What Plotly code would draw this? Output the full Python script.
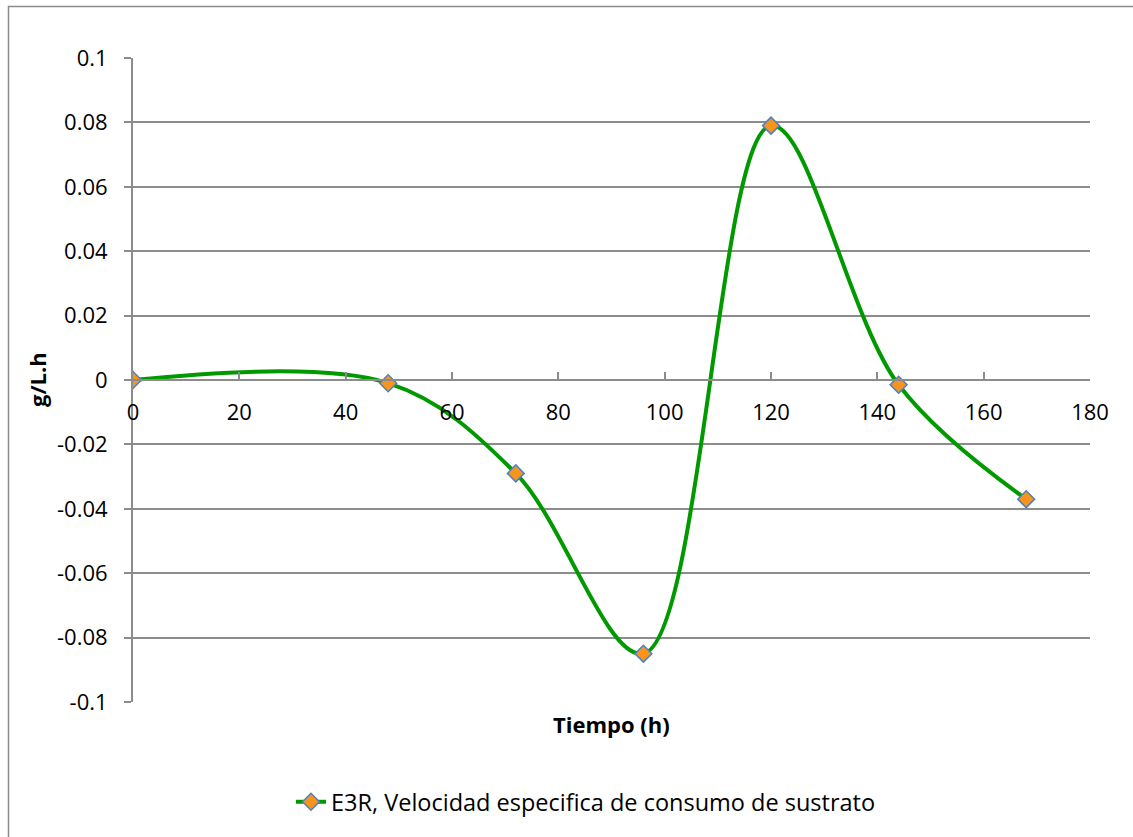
import plotly.graph_objects as go

tiempo = [0, 48, 72, 96, 120, 144, 168]
velocidad = [0.0, -0.001, -0.029, -0.085, 0.079, -0.0015, -0.037]
serie_nombre = "E3R, Velocidad especifica de consumo de sustrato"
x_ticks = [0, 20, 40, 60, 80, 100, 120, 140, 160, 180]
y_ticks = [-0.1, -0.08, -0.06, -0.04, -0.02, 0, 0.02, 0.04, 0.06, 0.08, 0.1]
y_ticklabels = ["-0.1", "-0.08", "-0.06", "-0.04", "-0.02", "0", "0.02", "0.04", "0.06", "0.08", "0.1"]

W, H = 1133, 837
FONT = "Open Sans"
FS = 22
GRID = "#8c8c8c"

x0px, x1px = 133, 1090
ytop, ybot = 58, 702
xdom = [x0px / W, x1px / W]
ydom = [1 - ybot / H, 1 - ytop / H]

fig = go.Figure()
fig.add_trace(go.Scatter(
    x=tiempo, y=velocidad, name=serie_nombre,
    mode="lines+markers",
    line=dict(color="#009900", width=4, shape="spline", smoothing=1.0),
    marker=dict(symbol="diamond", size=13, color="#F7941D",
                line=dict(color="#4F81BD", width=1.5)),
))

fig.update_layout(
    width=W, height=H,
    margin=dict(l=0, r=0, t=0, b=0, autoexpand=False),
    paper_bgcolor="white", plot_bgcolor="white",
    font=dict(family=FONT, size=FS, color="#000000"),
    showlegend=True,
    legend=dict(orientation="h", x=291 / W, xanchor="left", y=1 - 802 / H, yanchor="middle",
                font=dict(family=FONT, size=23.5), bgcolor="rgba(0,0,0,0)"),
    xaxis=dict(domain=xdom, range=[0, 180], tickvals=x_ticks,
               ticktext=[str(v) for v in x_ticks],
               anchor="free", position=(ydom[0] + ydom[1]) / 2,
               automargin=False,
               showline=True, linecolor=GRID, linewidth=2,
               ticks="inside", ticklen=7, tickcolor=GRID, tickwidth=2,
               showgrid=False, zeroline=False,
               ticklabelstandoff=13,
               tickfont=dict(family=FONT, size=FS)),
    yaxis=dict(domain=ydom, range=[-0.1, 0.1], tickvals=y_ticks, ticktext=y_ticklabels,
               automargin=False,
               showline=True, linecolor=GRID, linewidth=2,
               ticks="outside", ticklen=7, tickcolor=GRID, tickwidth=2,
               showgrid=True, gridcolor=GRID, gridwidth=2,
               zeroline=False, ticklabelstandoff=12,
               tickfont=dict(family=FONT, size=FS)),
)

# outer chart border
fig.add_shape(type="rect", xref="paper", yref="paper",
              x0=8.5 / W, x1=1.02, y0=-0.02, y1=1 - 6.5 / H,
              line=dict(color="#8c8c8c", width=1.5), fillcolor="rgba(0,0,0,0)", layer="below")

fig.add_annotation(text="<b>Tiempo (h)</b>", xref="paper", yref="paper",
                   x=(xdom[0] + xdom[1]) / 2, y=1 - 724 / H, showarrow=False,
                   xanchor="center", yanchor="middle",
                   font=dict(family=FONT, size=FS, color="#000000"))
fig.add_annotation(text="<b>g/L.h</b>", xref="paper", yref="paper",
                   x=37 / W, y=(ydom[0] + ydom[1]) / 2, showarrow=False,
                   textangle=-90, xanchor="center", yanchor="middle",
                   font=dict(family=FONT, size=FS, color="#000000"))

fig.write_html("out.html")
